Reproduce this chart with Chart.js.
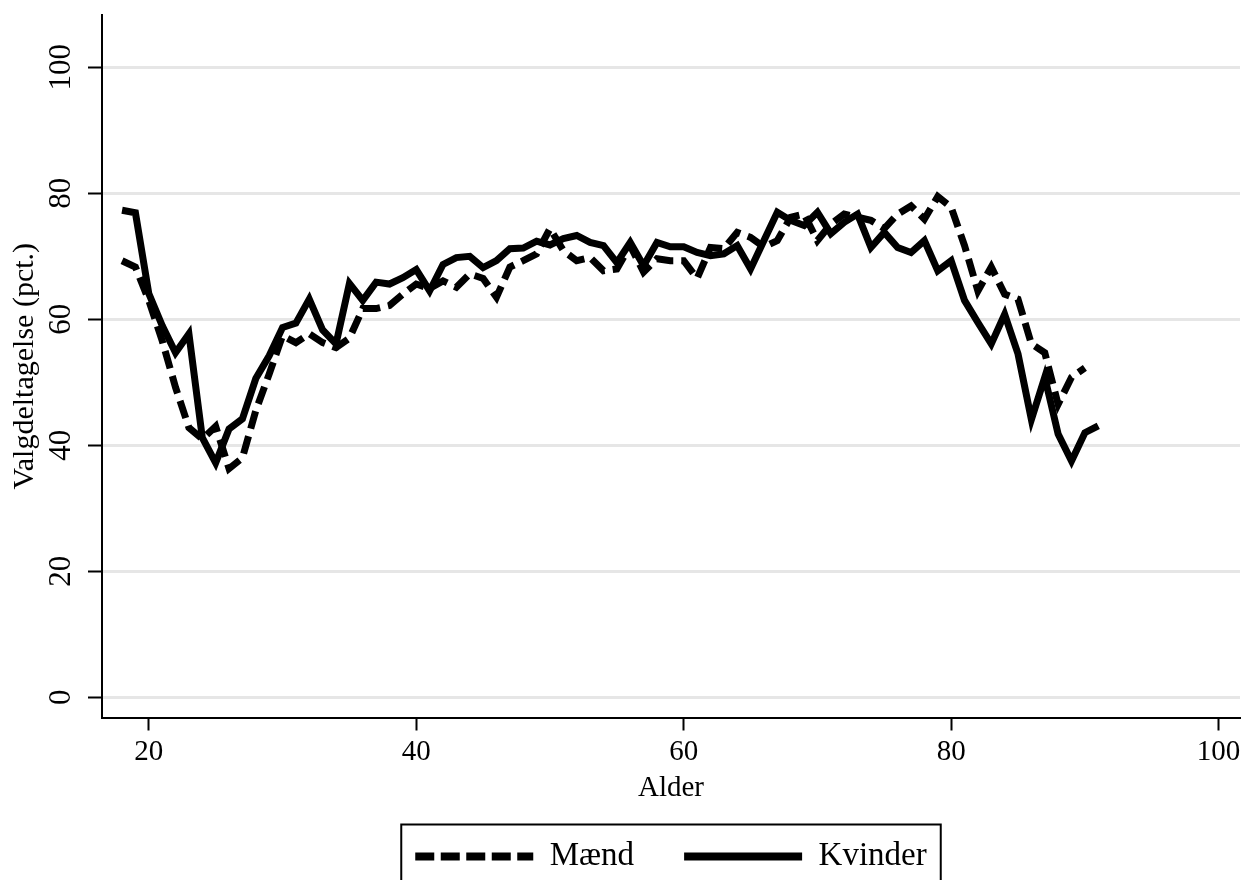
<!DOCTYPE html>
<html lang="da">
<head>
    <meta charset="UTF-8">
    <title>Valgdeltagelse efter alder</title>
    <script src="https://cdn.jsdelivr.net/npm/chart.js"></script>
    <style>
        html, body { margin: 0; padding: 0; background: #fff; overflow: hidden; }
        .chart { width: 1247px; height: 920px; }
    </style>
</head>
<body>
    <div class="chart">
        <canvas id="turnoutChart"></canvas>
    </div>

    <script>
        // Alder (x) og valgdeltagelse i pct. for mænd og kvinder
        const ages = [18, 19, 20, 21, 22, 23, 24, 25, 26, 27, 28, 29, 30, 31, 32, 33, 34, 35, 36, 37,
                      38, 39, 40, 41, 42, 43, 44, 45, 46, 47, 48, 49, 50, 51, 52, 53, 54, 55, 56, 57,
                      58, 59, 60, 61, 62, 63, 64, 65, 66, 67, 68, 69, 70, 71, 72, 73, 74, 75, 76, 77,
                      78, 79, 80, 81, 82, 83, 84, 85, 86, 87, 88, 89, 90, 91];
        const maend = [69.3, 68.3, 63.0, 56.6, 49.2, 42.8, 41.0, 43.0, 36.3, 38.0, 45.5, 51.3, 57.4, 56.3, 57.7, 56.3, 55.5, 57.0, 61.7, 61.7,
                       62.2, 64.0, 65.6, 64.9, 66.1, 65.1, 67.2, 66.5, 63.5, 68.3, 69.3, 70.4, 74.4, 70.9, 69.3, 69.8, 67.7, 68.0, 71.7, 67.5,
                       69.6, 69.3, 69.3, 66.5, 71.4, 71.2, 73.8, 73.0, 71.5, 72.5, 76.2, 76.7, 72.5, 75.1, 76.7, 76.2, 75.7, 74.4, 76.7, 78.0,
                       75.9, 79.5, 77.8, 71.7, 64.5, 68.3, 64.0, 63.2, 56.1, 54.7, 46.5, 50.8, 52.3, null];
        const kvinder = [77.3, 76.9, 64.1, 59.0, 54.7, 57.7, 41.2, 37.2, 42.6, 44.2, 50.6, 54.2, 58.7, 59.4, 63.2, 58.3, 56.1, 65.7, 63.0, 65.9,
                         65.6, 66.6, 67.9, 64.5, 68.7, 69.8, 70.0, 68.2, 69.3, 71.2, 71.3, 72.4, 71.8, 72.8, 73.3, 72.2, 71.7, 69.0, 72.2, 68.5,
                         72.2, 71.5, 71.5, 70.6, 70.1, 70.4, 71.7, 68.0, 72.5, 77.0, 75.7, 74.9, 77.0, 73.6, 75.4, 76.7, 71.4, 73.8, 71.4, 70.6,
                         72.5, 67.7, 69.3, 63.0, 59.5, 56.1, 60.8, 54.5, 44.1, 50.8, 41.8, 37.5, 42.0, 43.1];
        const xTicks = [20, 40, 60, 80, 100];
        const yTicks = [0, 20, 40, 60, 80, 100];

        const serif = 'Liberation Serif, Times New Roman, serif';
        const sampleGap = 34;     // empty space in front of each legend line
        const sampleLength = 118; // length of the legend line

        function toPoints(values) {
            return ages.map((a, i) => ({ x: a, y: values[i] }));
        }

        // legend lines (with dash) and the frame around the legend
        const legendFrame = {
            id: 'legendFrame',
            afterLayout(chart) {
                // center the visible part of the legend under the plot
                chart.legend.left -= sampleGap / 2;
                chart.legend.right -= sampleGap / 2;
            },
            afterDraw(chart) {
                const boxes = chart.legend.legendHitBoxes;
                if (!boxes || !boxes.length) return;
                const ctx = chart.ctx;
                ctx.save();
                ctx.strokeStyle = '#000';
                boxes.forEach((box, i) => {
                    const ds = chart.data.datasets[i];
                    const cy = box.top + box.height / 2;
                    ctx.lineWidth = 8;
                    ctx.lineCap = 'butt';
                    ctx.setLineDash(ds.borderDash ? [19, 6.5] : []);
                    ctx.beginPath();
                    ctx.moveTo(box.left + sampleGap, cy);
                    ctx.lineTo(box.left + sampleGap + sampleLength, cy);
                    ctx.stroke();
                });
                const first = boxes[0];
                const last = boxes[boxes.length - 1];
                const left = first.left + sampleGap - 14;
                const right = last.left + last.width + 14;
                const top = first.top + first.height / 2 - 32;
                ctx.setLineDash([]);
                ctx.lineWidth = 2;
                ctx.strokeRect(left, top, right - left, 120);
                ctx.restore();
            }
        };

        const config = {
            type: 'line',
            data: {
                datasets: [{
                    label: 'Mænd',
                    data: toPoints(maend),
                    borderColor: '#000',
                    backgroundColor: '#000',
                    borderWidth: 7,
                    borderDash: [18, 8],
                    pointRadius: 0,
                    tension: 0,
                    spanGaps: false
                }, {
                    label: 'Kvinder',
                    data: toPoints(kvinder),
                    borderColor: '#000',
                    backgroundColor: '#000',
                    borderWidth: 7,
                    pointRadius: 0,
                    tension: 0
                }]
            },
            options: {
                responsive: true,
                maintainAspectRatio: false,
                animation: false,
                layout: {
                    padding: { top: 15, right: 7, bottom: 37, left: 0 }
                },
                scales: {
                    x: {
                        type: 'linear',
                        min: 16.5,
                        max: 101.6,
                        afterFit(scale) { scale.height = 106.5; },
                        afterBuildTicks(scale) { scale.ticks = xTicks.map(v => ({ value: v })); },
                        border: { color: '#000', width: 2 },
                        grid: {
                            drawOnChartArea: false,
                            tickLength: 13,
                            tickWidth: 2,
                            tickColor: '#000'
                        },
                        ticks: {
                            color: '#000',
                            padding: 4,
                            maxRotation: 0,
                            font: { family: serif, size: 29 }
                        },
                        title: {
                            display: true,
                            text: 'Alder',
                            color: '#000',
                            padding: { top: 0, bottom: 18 },
                            font: { family: serif, size: 29 }
                        }
                    },
                    y: {
                        min: -3.2,
                        max: 108.3,
                        afterFit(scale) {
                            scale.width = 102;
                            // the rotated labels sit well inside the plot, no extra room needed
                            scale.paddingTop = 0;
                            scale.paddingBottom = 0;
                        },
                        afterBuildTicks(scale) { scale.ticks = yTicks.map(v => ({ value: v })); },
                        border: { color: '#000', width: 2 },
                        grid: {
                            color: '#e6e6e6',
                            lineWidth: 3,
                            tickLength: 14,
                            tickWidth: 2,
                            tickColor: '#000'
                        },
                        ticks: {
                            color: '#000',
                            padding: 3,
                            minRotation: 90,
                            maxRotation: 90,
                            crossAlign: 'center',
                            font: { family: serif, size: 31 }
                        },
                        title: {
                            display: true,
                            text: 'Valgdeltagelse (pct.)',
                            color: '#000',
                            padding: { top: 7, bottom: 0 },
                            font: { family: serif, size: 30 }
                        }
                    }
                },
                plugins: {
                    tooltip: { enabled: false },
                    legend: {
                        position: 'bottom',
                        fullSize: false,
                        labels: {
                            color: '#000',
                            usePointStyle: true,
                            pointStyle: 'line',
                            pointStyleWidth: sampleGap + sampleLength,
                            padding: 16,
                            font: { family: serif, size: 33 },
                            generateLabels(chart) {
                                const items = Chart.defaults.plugins.legend.labels.generateLabels(chart);
                                items.forEach(it => {
                                    it.strokeStyle = 'rgba(0,0,0,0)';
                                    it.lineWidth = 0;
                                });
                                return items;
                            }
                        }
                    }
                }
            },
            plugins: [legendFrame]
        };

        window.onload = function() {
            const ctx = document.getElementById('turnoutChart').getContext('2d');
            new Chart(ctx, config);
        };
    </script>
</body>
</html>
